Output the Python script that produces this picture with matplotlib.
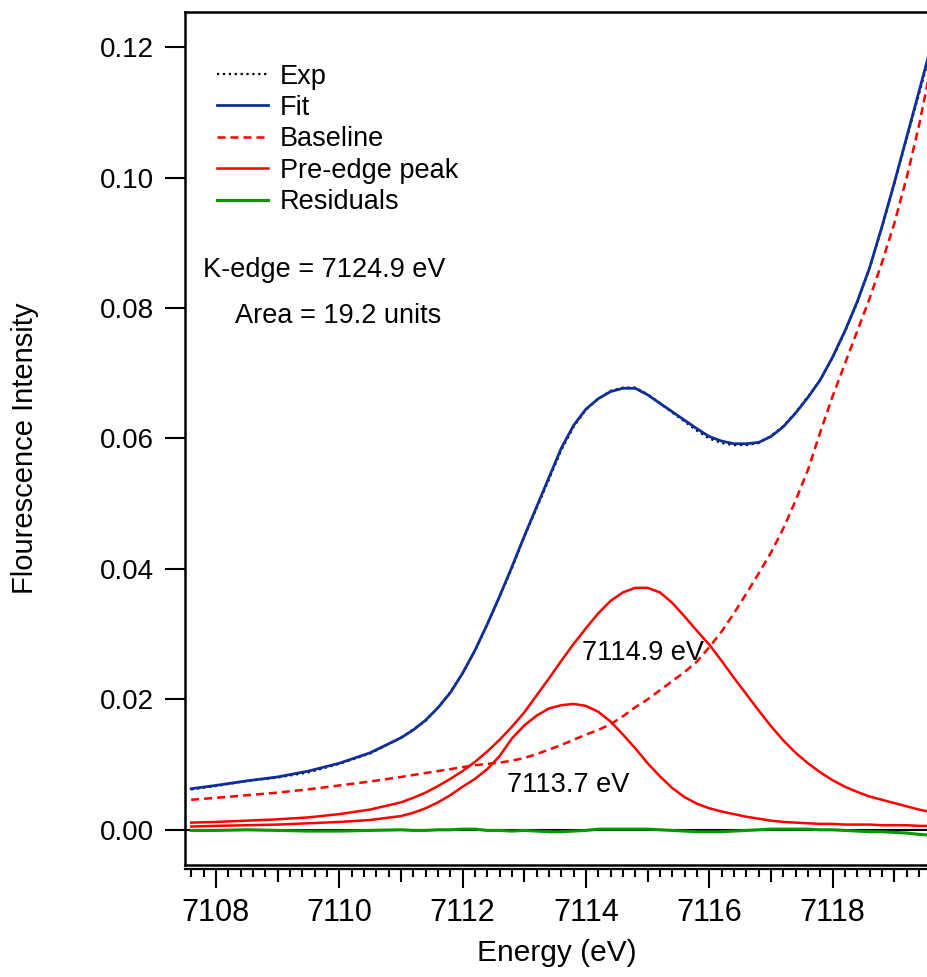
import matplotlib
matplotlib.use('Agg')
import matplotlib.pyplot as plt
from matplotlib.ticker import MultipleLocator, FormatStrFormatter

plt.rcParams['font.family'] = ['Liberation Sans', 'DejaVu Sans']

# energy grid (eV) shared by all traces
energy = [7107.6, 7108.0, 7108.5, 7109.0, 7109.5, 7110.0, 7110.5, 7111.0, 7111.2, 7111.4,
          7111.6, 7111.8, 7112.0, 7112.2, 7112.4, 7112.6, 7112.8, 7113.0, 7113.2, 7113.4,
          7113.6, 7113.8, 7114.0, 7114.2, 7114.4, 7114.6, 7114.8, 7115.0, 7115.2, 7115.4,
          7115.6, 7115.8, 7116.0, 7116.2, 7116.4, 7116.6, 7116.8, 7117.0, 7117.2, 7117.4,
          7117.6, 7117.8, 7118.0, 7118.2, 7118.4, 7118.6, 7118.8, 7119.0, 7119.2, 7119.4,
          7119.55]

exp_data = [0.0062, 0.0067, 0.0075, 0.0080, 0.0088, 0.0101, 0.0117, 0.0141, 0.0154, 0.0167,
            0.0187, 0.0211, 0.0240, 0.0274, 0.0315, 0.0357, 0.0401, 0.0449, 0.0493, 0.0537,
            0.0582, 0.0618, 0.0644, 0.0661, 0.0673, 0.0678, 0.0678, 0.0668, 0.0654, 0.0640,
            0.0626, 0.0612, 0.0600, 0.0593, 0.0590, 0.0590, 0.0593, 0.0604, 0.0619, 0.0640,
            0.0664, 0.0690, 0.0724, 0.0764, 0.0809, 0.0861, 0.0924, 0.0991, 0.1060, 0.1128,
            0.1180]

fit = [0.0063, 0.0068, 0.0075, 0.0081, 0.0090, 0.0102, 0.0118, 0.0141, 0.0153, 0.0168,
       0.0187, 0.0210, 0.0240, 0.0275, 0.0315, 0.0358, 0.0403, 0.0450, 0.0495, 0.0540,
       0.0585, 0.0620, 0.0645, 0.0661, 0.0672, 0.0677, 0.0677, 0.0667, 0.0654, 0.0641,
       0.0628, 0.0615, 0.0603, 0.0596, 0.0592, 0.0592, 0.0594, 0.0603, 0.0618, 0.0639,
       0.0663, 0.0690, 0.0725, 0.0765, 0.0810, 0.0862, 0.0925, 0.0992, 0.1062, 0.1132,
       0.1185]

baseline = [0.0046, 0.0049, 0.0053, 0.0057, 0.0062, 0.0068, 0.0074, 0.0081, 0.0084, 0.0087,
            0.0090, 0.0093, 0.0096, 0.0099, 0.0101, 0.0103, 0.0106, 0.0110, 0.0116, 0.0123,
            0.0130, 0.0138, 0.0146, 0.0153, 0.0162, 0.0174, 0.0188, 0.0200, 0.0214, 0.0228,
            0.0242, 0.0258, 0.0280, 0.0304, 0.0332, 0.0362, 0.0393, 0.0425, 0.0462, 0.0505,
            0.0552, 0.0610, 0.0665, 0.0715, 0.0765, 0.0815, 0.0870, 0.0930, 0.1000, 0.1080,
            0.1150]

peak_7114_9 = [0.0011, 0.0012, 0.0014, 0.0016, 0.0019, 0.0024, 0.0031, 0.0042, 0.0049, 0.0057,
               0.0067, 0.0078, 0.0090, 0.0104, 0.0120, 0.0138, 0.0158, 0.0180, 0.0206, 0.0232,
               0.0259, 0.0285, 0.0309, 0.0332, 0.0351, 0.0364, 0.0371, 0.0371, 0.0364, 0.0348,
               0.0327, 0.0305, 0.0284, 0.0259, 0.0233, 0.0208, 0.0183, 0.0159, 0.0137, 0.0118,
               0.0102, 0.0088, 0.0076, 0.0066, 0.0058, 0.0051, 0.0046, 0.0041, 0.0036, 0.0031,
               0.0028]

peak_7113_7 = [0.0005, 0.0006, 0.0007, 0.0008, 0.0010, 0.0012, 0.0015, 0.0021, 0.0026, 0.0033,
               0.0042, 0.0053, 0.0066, 0.0078, 0.0093, 0.0113, 0.0140, 0.0160, 0.0175, 0.0186,
               0.0191, 0.0193, 0.0190, 0.0181, 0.0166, 0.0146, 0.0125, 0.0102, 0.0082, 0.0064,
               0.0050, 0.0040, 0.0033, 0.0028, 0.0024, 0.0020, 0.0017, 0.0014, 0.0012, 0.0011,
               0.0010, 0.0009, 0.0009, 0.0008, 0.0008, 0.0008, 0.0007, 0.0007, 0.0007, 0.0006,
               0.0006]

residuals = [-0.0001, -0.0001, 0.0000, -0.0001, -0.0002, -0.0002, -0.0001, 0.0000, -0.0001, -0.0001,
             0.0000, 0.0000, 0.0001, 0.0001, -0.0001, -0.0001, -0.0002, -0.0001, -0.0002, -0.0003,
             -0.0003, -0.0002, -0.0001, 0.0001, 0.0001, 0.0001, 0.0001, 0.0001, 0.0000, -0.0001,
             -0.0002, -0.0003, -0.0003, -0.0003, -0.0002, -0.0001, 0.0000, 0.0001, 0.0001, 0.0001,
             0.0001, 0.0000, 0.0000, -0.0001, -0.0002, -0.0003, -0.0003, -0.0004, -0.0005, -0.0007,
             -0.0008]

blue = '#0f2f98'
red = '#ff0000'
green = '#009a00'

fig = plt.figure(figsize=(9.27, 9.77), dpi=100)
ax = fig.add_axes([185 / 927, 1 - 865 / 977, 742 / 927, 853 / 977])

ax.axhline(0, color='black', lw=1.5, zorder=1)
h_exp, = ax.plot(energy, exp_data, color='black', ls=':', lw=1.6, zorder=3)
h_fit, = ax.plot(energy, fit, color=blue, lw=2.0, zorder=4)
h_base, = ax.plot(energy, baseline, color=red, ls=(0, (3.2, 2.0)), lw=1.8, zorder=2)
h_peak, = ax.plot(energy, peak_7114_9, color=red, lw=1.8, zorder=2)
ax.plot(energy, peak_7113_7, color=red, lw=1.8, zorder=2)
h_res, = ax.plot(energy, residuals, color=green, lw=2.2, zorder=2)

ax.set_xlim(7107.5, 7119.53)
ax.set_ylim(-0.0054, 0.1254)

# frame + offset axis line below it
for s in ['top', 'left']:
    ax.spines[s].set_linewidth(1.8)
ax.spines['right'].set_visible(False)
ax.spines['bottom'].set_position(('outward', 3))
ax.spines['bottom'].set_linewidth(1.6)
ax.plot([0, 1], [0, 0], transform=ax.transAxes, color='black', lw=1.8, clip_on=False)

ax.xaxis.set_major_locator(MultipleLocator(2))
ax.xaxis.set_minor_locator(MultipleLocator(0.2))
ax.yaxis.set_major_locator(MultipleLocator(0.02))
ax.yaxis.set_major_formatter(FormatStrFormatter('%.2f'))
ax.tick_params(axis='x', which='major', direction='out', length=14, width=1.5, labelsize=22, pad=7)
ax.tick_params(axis='x', which='minor', direction='out', length=5.8, width=1.5)
ax.tick_params(axis='y', which='major', direction='out', length=14.4, width=1.5, labelsize=20, pad=8)

# medium ticks on odd eV
sec = ax.secondary_xaxis(-3 / 0.72 / 853)
sec.xaxis.set_major_locator(MultipleLocator(2, offset=1))
sec.tick_params(length=9.4, width=1.5, labelbottom=False)
sec.spines['bottom'].set_visible(False)

ax.set_xlabel('Energy (eV)', fontsize=21.5)
ax.xaxis.set_label_coords(0.5013, -0.087)
ax.set_ylabel('Flourescence Intensity', fontsize=21)
ax.yaxis.set_label_coords(-0.197, 0.488)

ax.legend([h_exp, h_fit, h_base, h_peak, h_res],
          ['Exp', 'Fit', 'Baseline', 'Pre-edge peak', 'Residuals'],
          loc='upper left', bbox_to_anchor=(0.0431, 0.9396), frameon=False,
          fontsize=19.5, handlelength=1.88, handletextpad=0.44, labelspacing=0.2,
          borderpad=0, borderaxespad=0)

ax.text(7107.79, 0.0858, 'K-edge = 7124.9 eV', fontsize=19.5, va='center', ha='left')
ax.text(7108.31, 0.0788, 'Area = 19.2 units', fontsize=19.5, va='center', ha='left')
ax.text(7113.94, 0.0271, '7114.9 eV', fontsize=19.5, va='center', ha='left')
ax.text(7112.72, 0.0069, '7113.7 eV', fontsize=19.5, va='center', ha='left')

fig.savefig('out.png', dpi=100)
